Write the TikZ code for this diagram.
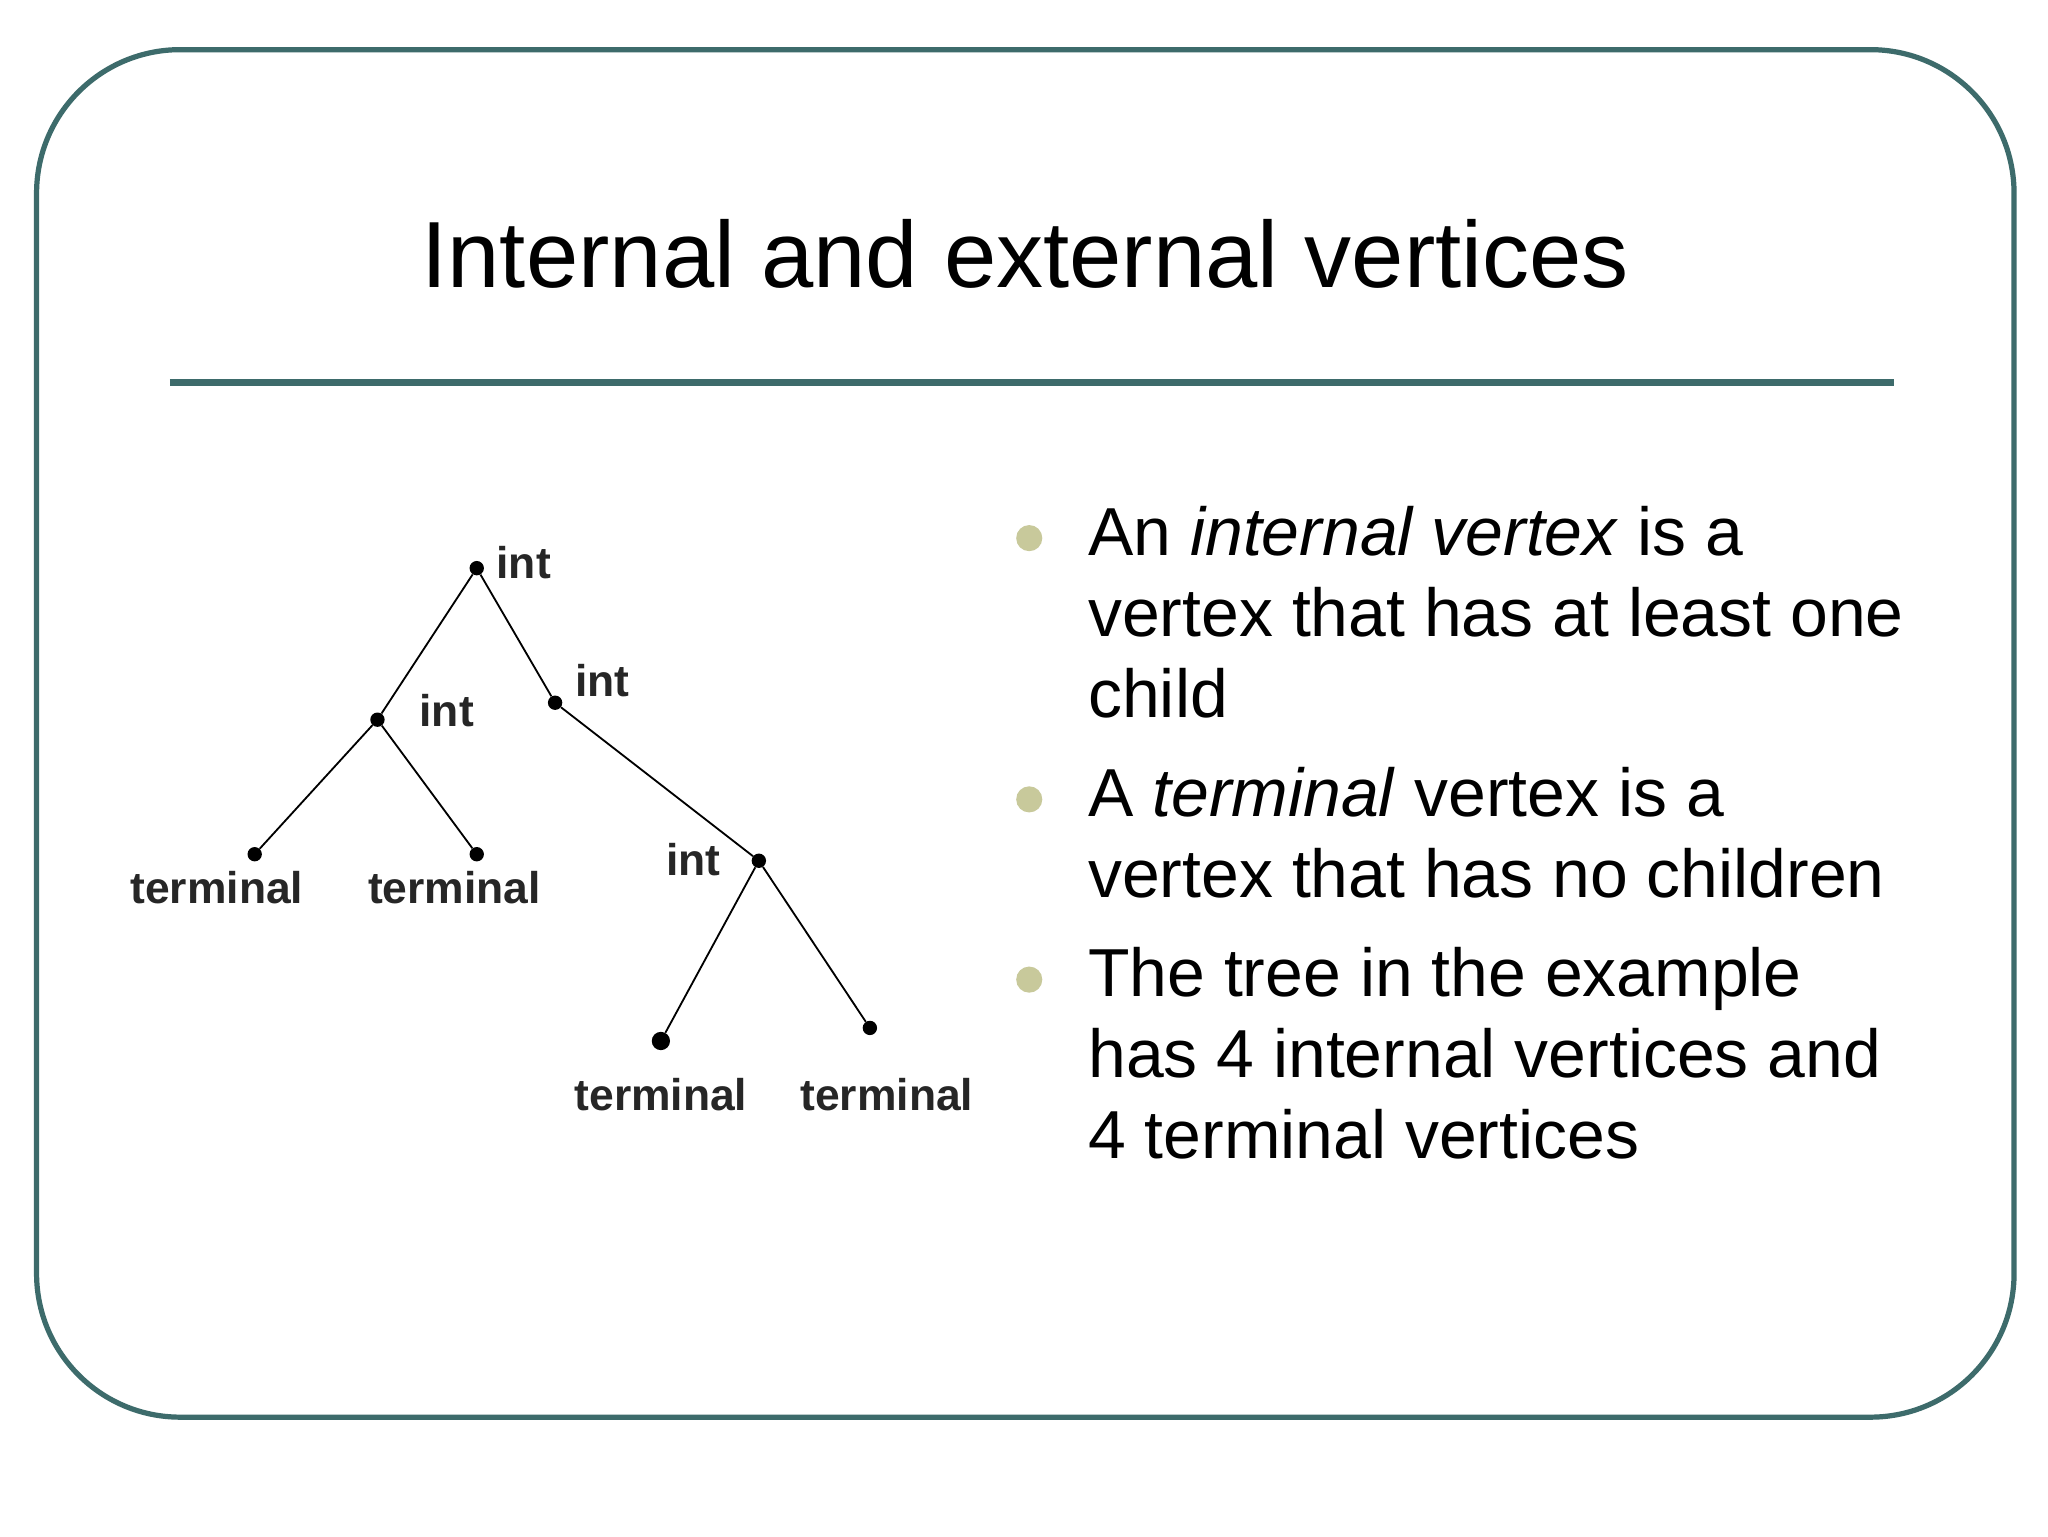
\documentclass[tikz,border=0pt]{standalone}
\usepackage{fontspec}
\setmainfont{Liberation Sans}
\definecolor{frame}{HTML}{3D6B6B}
\definecolor{bul}{HTML}{C8C99B}
\begin{document}
\begin{tikzpicture}[x=1pt,y=-1pt,
  vtx/.style={circle,fill=black,inner sep=0pt,minimum size=11pt},
  lab/.style={font=\fontsize{34}{34}\selectfont\bfseries,text=black!85,anchor=base},
  body/.style={font=\fontsize{52}{62}\selectfont,anchor=base west,inner sep=0pt}]
\useasboundingbox (0,0) rectangle (1568,1176);
\fill[white] (0,0) rectangle (1568,1176);
\draw[frame,line width=4pt,rounded corners=110pt] (28,38) rectangle (1542,1085);
\draw[frame,line width=5pt] (130,293) -- (1450,293);
\node[font=\fontsize{72}{72}\selectfont,anchor=base] (title) at (785,220) {Internal and external vertices};
% tree
\node[vtx] (r) at (365,435) {};
\node[vtx] (a) at (289,551) {};
\node[vtx] (b) at (425,538) {};
\node[vtx] (a1) at (195,654) {};
\node[vtx] (a2) at (365,654) {};
\node[vtx] (c) at (581,659) {};
\node[vtx,minimum size=14pt] (c1) at (506,797) {};
\node[vtx] (c2) at (666,787) {};
\draw[line width=1.4pt] (r)--(a) (r)--(b) (a)--(a1) (a)--(a2) (b)--(c) (c)--(c1) (c)--(c2);
\node[lab] (l1) at (401,443) {int};
\node[lab] (l2) at (342,556) {int};
\node[lab] (l3) at (461,533) {int};
\node[lab] (l4) at (531,670) {int};
\node[lab] (t1) at (166,692) {terminal};
\node[lab] (t2) at (348,692) {terminal};
\node[lab] (t3) at (506,850) {terminal};
\node[lab] (t4) at (679,850) {terminal};
% bullets
\fill[bul] (788,412) circle (10);
\fill[bul] (788,612) circle (10);
\fill[bul] (788,750) circle (10);
\node[body] (p1) at (833,425) {An \textit{internal vertex} is a};
\node[body] (p2) at (833,487) {vertex that has at least one};
\node[body] (p3) at (833,549) {child};
\node[body] (p4) at (833,625) {A \textit{terminal} vertex is a};
\node[body] (p5) at (833,687) {vertex that has no children};
\node[body] (p6) at (833,763) {The tree in the example};
\node[body] (p7) at (833,825) {has 4 internal vertices and};
\node[body] (p8) at (833,887) {4 terminal vertices};
\end{tikzpicture}
\end{document}
